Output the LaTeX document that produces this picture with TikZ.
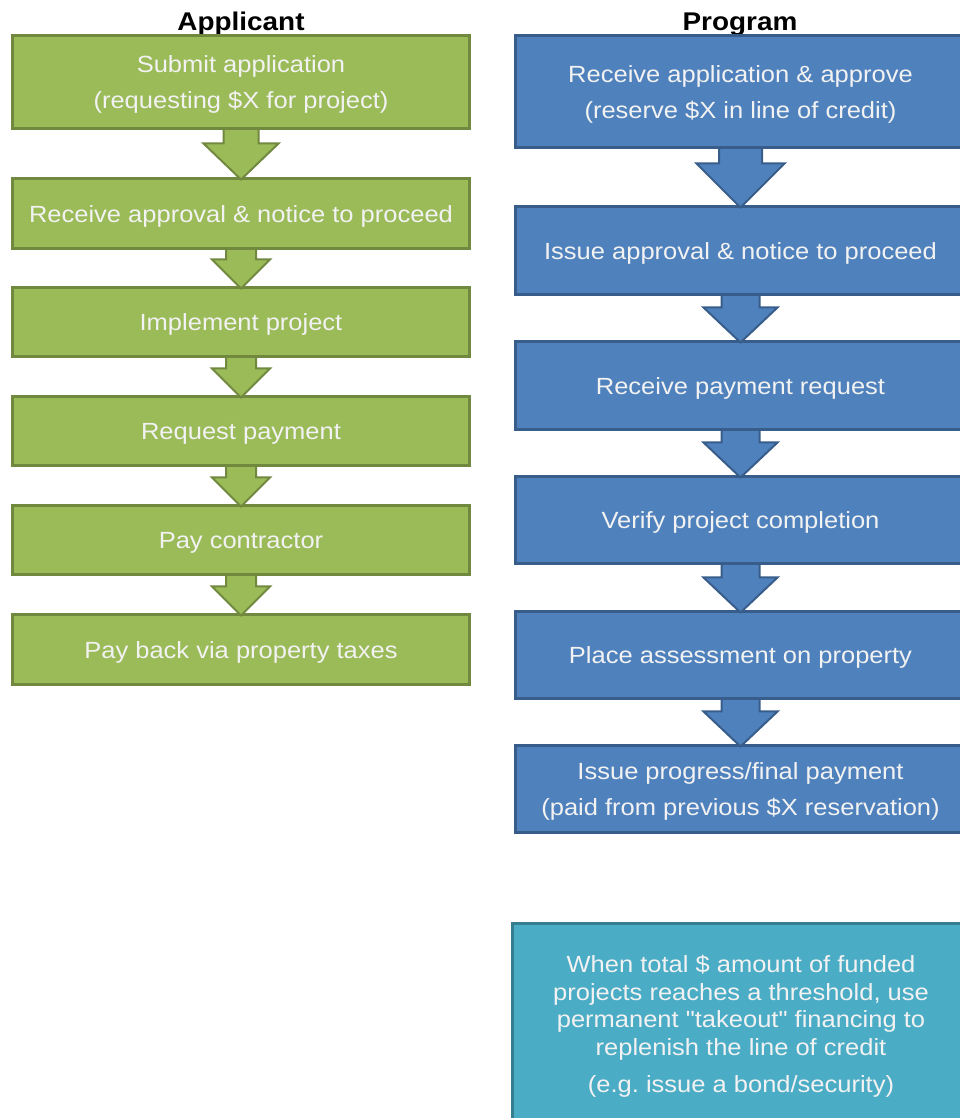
\documentclass[tikz,border=0pt]{standalone}
\usepackage{fontspec}
\setmainfont{Liberation Sans}[FakeStretch=1.09]
\newfontfamily\qfont{Liberation Sans}[FakeStretch=1.09, Ligatures=ResetAll]
\usetikzlibrary{calc}
\definecolor{gfill}{HTML}{9BBB59}
\definecolor{gline}{HTML}{71893F}
\definecolor{bfill}{HTML}{4F81BD}
\definecolor{bline}{HTML}{385D8A}
\definecolor{tfill}{HTML}{4BACC6}
\definecolor{tline}{HTML}{357D90}
\definecolor{txt}{HTML}{F2F2F2}
\tikzset{
  box/.style={rectangle, line width=3pt, text=txt, align=center, inner sep=0pt,
    text depth=-0.5pt, font=\fontsize{23.4}{36}\selectfont},
  gbox/.style={box, fill=gfill, draw=gline, minimum width=457pt},
  bbox/.style={box, fill=bfill, draw=bline, minimum width=451pt},
  tbox/.style={box, fill=tfill, draw=tline, minimum width=458pt,
    font=\fontsize{23.4}{27.5}\selectfont},
  garrow/.style={fill=gfill, draw=gline, line width=2pt, line join=miter},
  barrow/.style={fill=bfill, draw=bline, line width=2pt, line join=miter},
  header/.style={font=\bfseries\fontsize{25.6}{30}\selectfont, text=black, anchor=base, inner sep=0pt}
}
% #1 from, #2 to, #3 half shaft, #4 half head, #5 head length, #6 style
\newcommand{\blockarrow}[6]{%
  \path[#6] let \p1=(#1.south), \p2=(#2.north) in
    (\x1-#3,\y1+1.5) -- (\x1+#3,\y1+1.5) -- (\x1+#3,\y2+#5) -- (\x1+#4,\y2+#5)
    -- (\x1,\y2-2) -- (\x1-#4,\y2+#5) -- (\x1-#3,\y2+#5) -- cycle;}
\begin{document}
\begin{tikzpicture}[x=1pt,y=1pt]
\useasboundingbox (0,0) rectangle (960,1118);
% headers
\node[header] (hA) at (241,1087) {Applicant};
\node[header] (hP) at (740,1087) {Program};
% left column
\node[gbox, minimum height=93pt] (a1) at (241,1118-82.5) {Submit application\\(requesting \$X for project)};
\node[gbox, minimum height=70pt] (a2) at (241,1118-214) {Receive approval \& notice to proceed};
\node[gbox, minimum height=69pt] (a3) at (241,1118-322.5) {Implement project};
\node[gbox, minimum height=69pt] (a4) at (241,1118-431.5) {Request payment};
\node[gbox, minimum height=69pt] (a5) at (241,1118-540.5) {Pay contractor};
\node[gbox, minimum height=70pt] (a6) at (241,1118-650) {Pay back via property taxes};
% right column
\node[bbox, minimum height=112pt] (p1) at (740.5,1118-92) {Receive application \& approve\\(reserve \$X in line of credit)};
\node[bbox, minimum height=88pt] (p2) at (740.5,1118-251) {Issue approval \& notice to proceed};
\node[bbox, minimum height=88pt] (p3) at (740.5,1118-386) {Receive payment request};
\node[bbox, minimum height=87pt] (p4) at (740.5,1118-520.5) {Verify project completion};
\node[bbox, minimum height=87pt] (p5) at (740.5,1118-655.5) {Place assessment on property};
\node[bbox, minimum height=87pt] (p6) at (740.5,1118-789.5) {Issue progress/final payment\\(paid from previous \$X reservation)};
\node[tbox, minimum height=200pt] (p7) at (741,1118-1024) {When total \$ amount of funded\\projects reaches a threshold, use\\permanent {\qfont"}takeout{\qfont"} financing to\\replenish the line of credit\\[9.5pt](e.g.\ issue a bond/security)};
% arrows left
\blockarrow{a1}{a2}{17.5}{37.5}{34}{garrow}
\blockarrow{a2}{a3}{15}{29}{27}{garrow}
\blockarrow{a3}{a4}{15}{29}{27}{garrow}
\blockarrow{a4}{a5}{15}{29}{27}{garrow}
\blockarrow{a5}{a6}{15}{29}{27}{garrow}
% arrows right
\blockarrow{p1}{p2}{21.5}{44}{42}{barrow}
\blockarrow{p2}{p3}{19}{37}{33}{barrow}
\blockarrow{p3}{p4}{19}{37}{33}{barrow}
\blockarrow{p4}{p5}{19}{37}{33}{barrow}
\blockarrow{p5}{p6}{19}{37}{33}{barrow}
\end{tikzpicture}
\end{document}
